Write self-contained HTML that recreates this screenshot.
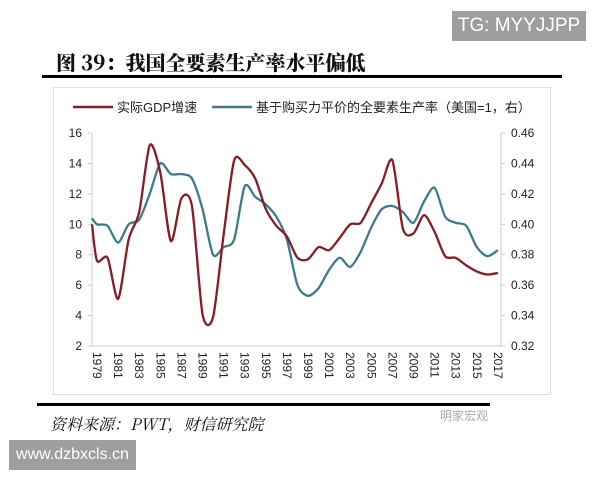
<!DOCTYPE html>
<html><head><meta charset="utf-8"><style>
body{margin:0;width:600px;height:480px;background:#fff;overflow:hidden;position:relative;font-family:"Liberation Sans","Noto Sans CJK SC",sans-serif}
.abs{position:absolute}
</style></head><body>
<div class="abs" style="left:452px;top:11px;width:134px;height:30px;background:#9e9e9e;color:#fff;font-size:19px;line-height:30px;text-align:center">TG: MYYJJPP</div>
<div class="abs" style="left:56px;top:47px;font-family:'Noto Serif CJK SC',serif;font-weight:900;font-size:20px;color:#111">图 39：我国全要素生产率水平偏低</div>
<div class="abs" style="left:42px;top:75px;width:520px;height:3px;background:#000"></div>
<div class="abs" style="left:53px;top:87px;width:496px;height:306px;border:1px solid #ddd"></div>
<div class="abs" style="left:37px;top:403px;width:453px;height:3px;background:#000"></div>
<div class="abs" style="left:50px;top:412px;font-family:'Noto Serif CJK SC',serif;font-style:italic;font-size:16px;color:#111">资料来源：PWT，财信研究院</div>
<div class="abs" style="left:440px;top:407px;font-size:12px;color:#aaa">明家宏观</div>
<div class="abs" style="left:9px;top:440px;width:127px;height:30px;background:#9e9e9e;color:#fff;font-size:16px;line-height:30px;text-align:center">www.dzbxcls.cn</div>
<svg class="abs" style="left:0;top:0" width="600" height="480" id="s">
<line x1="73" y1="107" x2="113" y2="107" stroke="#8b1a24" stroke-width="2.5"/>
<text x="117" y="112" font-size="13" fill="#222">实际GDP增速</text>
<line x1="212" y1="107" x2="252" y2="107" stroke="#3d7a8c" stroke-width="2.5"/>
<text x="256" y="112" font-size="13" fill="#222">基于购买力平价的全要素生产率（美国=1，右）</text>
<g id="ax" stroke="#ccc" fill="none"></g>
<g id="lab" font-size="12" fill="#222"></g>
<path id="p2" fill="none" stroke="#3d7a8c" stroke-width="2.3"/>
<path id="p1" fill="none" stroke="#8b1a24" stroke-width="2.3"/>
</svg>
<script>
var g=[10,7.6,7.8,5.1,9.0,10.8,15.2,13.4,8.9,11.7,11.2,4.1,3.9,9.3,14.2,13.9,13.0,11.0,9.9,9.2,7.8,7.7,8.5,8.3,9.1,10.0,10.1,11.4,12.7,14.2,9.7,9.4,10.6,9.5,7.9,7.8,7.3,6.9,6.7,6.8];
var t=[.404,.400,.399,.388,.400,.403,.420,.440,.433,.433,.430,.410,.380,.385,.390,.425,.418,.413,.405,.390,.360,.353,.358,.370,.378,.372,.382,.398,.410,.412,.408,.401,.415,.424,.405,.401,.399,.385,.379,.383];
var Y0=133,Y1=346,N=40,DX=10.55;
function xx(i){return i==0?92:97+(i-1)*DX}
function yl(v){return Y1-(v-2)/14*(Y1-Y0)}
function yr(v){return Y1-(v-.32)/.14*(Y1-Y0)}
function path(a,f){var p=a.map(function(v,i){return[xx(i),f(v)]});var d="M"+p[0];var c=7.5;for(var i=0;i<p.length-1;i++){var a0=p[i-1]||p[i],a1=p[i],a2=p[i+1],a3=p[i+2]||a2;d+="C"+(a1[0]+(a2[0]-a0[0])/c)+","+(a1[1]+(a2[1]-a0[1])/c)+" "+(a2[0]-(a3[0]-a1[0])/c)+","+(a2[1]-(a3[1]-a1[1])/c)+" "+a2[0]+","+a2[1];}return d}
document.getElementById("p1").setAttribute("d",path(g,yl));
document.getElementById("p2").setAttribute("d",path(t,yr));
var ax="",lb="";
ax+='<line x1="92" y1="133" x2="92" y2="346"/><line x1="501" y1="133" x2="501" y2="346"/><line x1="92" y1="346" x2="501" y2="346"/>';
for(var k=0;k<8;k++){var y=Y1-k*(Y1-Y0)/7;ax+='<line x1="88" y1="'+y+'" x2="92" y2="'+y+'"/><line x1="501" y1="'+y+'" x2="505" y2="'+y+'"/>';
lb+='<text x="82" y="'+(y+4)+'" text-anchor="end">'+(2+2*k)+'</text><text x="511" y="'+(y+4)+'">'+(0.32+0.02*k).toFixed(2)+'</text>';}
for(var j=0;j<=38;j+=2){var x=97+j*DX;lb+='<text transform="translate('+(x-4)+',352) rotate(90)">'+(1979+j)+'</text>';}
document.getElementById("ax").innerHTML=ax;document.getElementById("lab").innerHTML=lb;
</script>
</body></html>
